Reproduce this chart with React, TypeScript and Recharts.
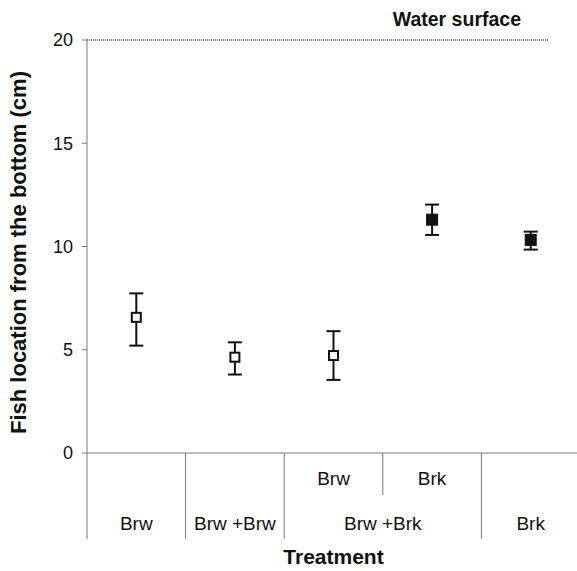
import { ComposedChart, Line, ErrorBar, XAxis, YAxis, ReferenceLine, Label } from "recharts";

// one column per plotted fish group
const treatments = ["Brw", "Brw +Brw", "Brw +Brk", "Brw +Brk", "Brk"];
const focalFish = ["", "", "Brw", "Brk", ""];

// brown trout (open squares)
const brwMean = [6.57, 4.64, 4.72, null, null];
const brwLower = [5.2, 3.8, 3.54, null, null];
const brwUpper = [7.73, 5.36, 5.9, null, null];

// brook trout (filled squares)
const brkMean = [null, null, null, 11.3, 10.32];
const brkLower = [null, null, null, 10.56, 9.85];
const brkUpper = [null, null, null, 12.03, 10.72];

const yTicks = [0, 5, 10, 15, 20];
const waterSurface = 20;

const W = 577;
const H = 571;
const PLOT_LEFT = 87;
const PLOT_RIGHT = 548;
const BAND_RIGHT = 580;
const BAND_W = (BAND_RIGHT - PLOT_LEFT) / treatments.length;
const FONT = "'Liberation Sans', Arial, Helvetica, sans-serif";
const INK = "#111";
const AXIS = "#7a7a7a";

const errRange = (m: number | null, lo: number | null, hi: number | null) =>
  m == null || lo == null || hi == null ? null : [m - lo, hi - m];

const data = treatments.map((t, i) => ({
  column: `${t}|${focalFish[i]}`,
  brw: brwMean[i],
  brwErr: errRange(brwMean[i], brwLower[i], brwUpper[i]),
  brk: brkMean[i],
  brkErr: errRange(brkMean[i], brkLower[i], brkUpper[i]),
}));

const OpenSquare = (p: any) => {
  if (p.value == null || p.cy == null) return <g key={`o${p.index}`} />;
  return (
    <rect key={`o${p.index}`} x={p.cx - 4.5} y={p.cy - 4.5} width={9} height={9}
      fill="#fff" stroke={INK} strokeWidth={2} />
  );
};

const FilledSquare = (p: any) => {
  if (p.value == null || p.cy == null) return <g key={`f${p.index}`} />;
  return (
    <rect key={`f${p.index}`} x={p.cx - 5.5} y={p.cy - 5.5} width={11} height={11}
      fill={INK} stroke={INK} strokeWidth={1} />
  );
};

function TreatmentTick(props: any) {
  const { x, y, payload } = props;
  const i = payload.index;
  const half = payload.offset || BAND_W / 2;
  const t = treatments[i];
  const sameAsPrev = i > 0 && treatments[i - 1] === t;
  const sameAsNext = i < treatments.length - 1 && treatments[i + 1] === t;
  const labelX = sameAsNext ? x + half : x;
  return (
    <g>
      <line x1={x - half} x2={x + half} y1={y} y2={y} stroke={AXIS} strokeWidth={1} />
      <line x1={x - half} x2={x - half} y1={y} y2={y + (sameAsPrev ? 42 : 86)} stroke={AXIS} strokeWidth={1} />
      {i === treatments.length - 1 && (
        <line x1={x + half} x2={x + half} y1={y} y2={y + 86} stroke={AXIS} strokeWidth={1} />
      )}
      {focalFish[i] && (
        <text x={x} y={y + 32} textAnchor="middle" fontSize={19} fill={INK} fontFamily={FONT}>
          {focalFish[i]}
        </text>
      )}
      {!sameAsPrev && (
        <text x={labelX} y={y + 77} textAnchor="middle" fontSize={19} fill={INK} fontFamily={FONT}>
          {t}
        </text>
      )}
    </g>
  );
}

export default function App() {
  return (
    <div style={{ position: "absolute", left: 0, top: 0, width: W, height: H, background: "#fff" }}>
      <ComposedChart width={W} height={H} data={data}
        margin={{ top: 40, right: W - PLOT_RIGHT, bottom: 8, left: 0 }}>
        <XAxis dataKey="column" type="category" scale="band" height={110}
          padding={{ left: 0, right: PLOT_RIGHT - BAND_RIGHT }}
          axisLine={false} tickLine={false} tickSize={0} tickMargin={0}
          interval={0} tick={<TreatmentTick />}>
          <Label content={() => (
            <text x={(PLOT_LEFT + BAND_RIGHT) / 2} y={564} textAnchor="middle"
              fontSize={21} fontWeight="bold" fill={INK} fontFamily={FONT}>Treatment</text>
          )} />
        </XAxis>
        <YAxis type="number" domain={[0, 20]} ticks={yTicks} width={PLOT_LEFT}
          axisLine={{ stroke: AXIS, strokeWidth: 1 }} tickLine={{ stroke: AXIS }}
          tickSize={5} tickMargin={9}
          tick={{ fontSize: 18, fill: INK, fontFamily: FONT }}>
          <Label content={(lp: any) => {
            const vb = lp.viewBox;
            const cx = 18;
            const cy = vb.y + vb.height / 2 + 6;
            return (
              <text x={cx} y={cy} dy="0.36em" textAnchor="middle" transform={`rotate(-90, ${cx}, ${cy})`}
                fontSize={22} fontWeight="bold" fill={INK} fontFamily={FONT}>
                Fish location from the bottom (cm)
              </text>
            );
          }} />
        </YAxis>
        <ReferenceLine y={waterSurface} stroke="#000" strokeWidth={1} strokeDasharray="1 1"
          ifOverflow="extendDomain">
          <Label content={(lp: any) => {
            const vb = lp.viewBox;
            return (
              <text x={vb.x + vb.width - 27} y={vb.y - 14} textAnchor="end"
                fontSize={19.5} fontWeight="bold" fill={INK} fontFamily={FONT}>
                Water surface
              </text>
            );
          }} />
        </ReferenceLine>
        <Line dataKey="brw" stroke="none" isAnimationActive={false} dot={OpenSquare} activeDot={false}>
          <ErrorBar dataKey="brwErr" width={7} stroke={INK} strokeWidth={2} direction="y" />
        </Line>
        <Line dataKey="brk" stroke="none" isAnimationActive={false} dot={FilledSquare} activeDot={false}>
          <ErrorBar dataKey="brkErr" width={7} stroke={INK} strokeWidth={2} direction="y" />
        </Line>
      </ComposedChart>
    </div>
  );
}
